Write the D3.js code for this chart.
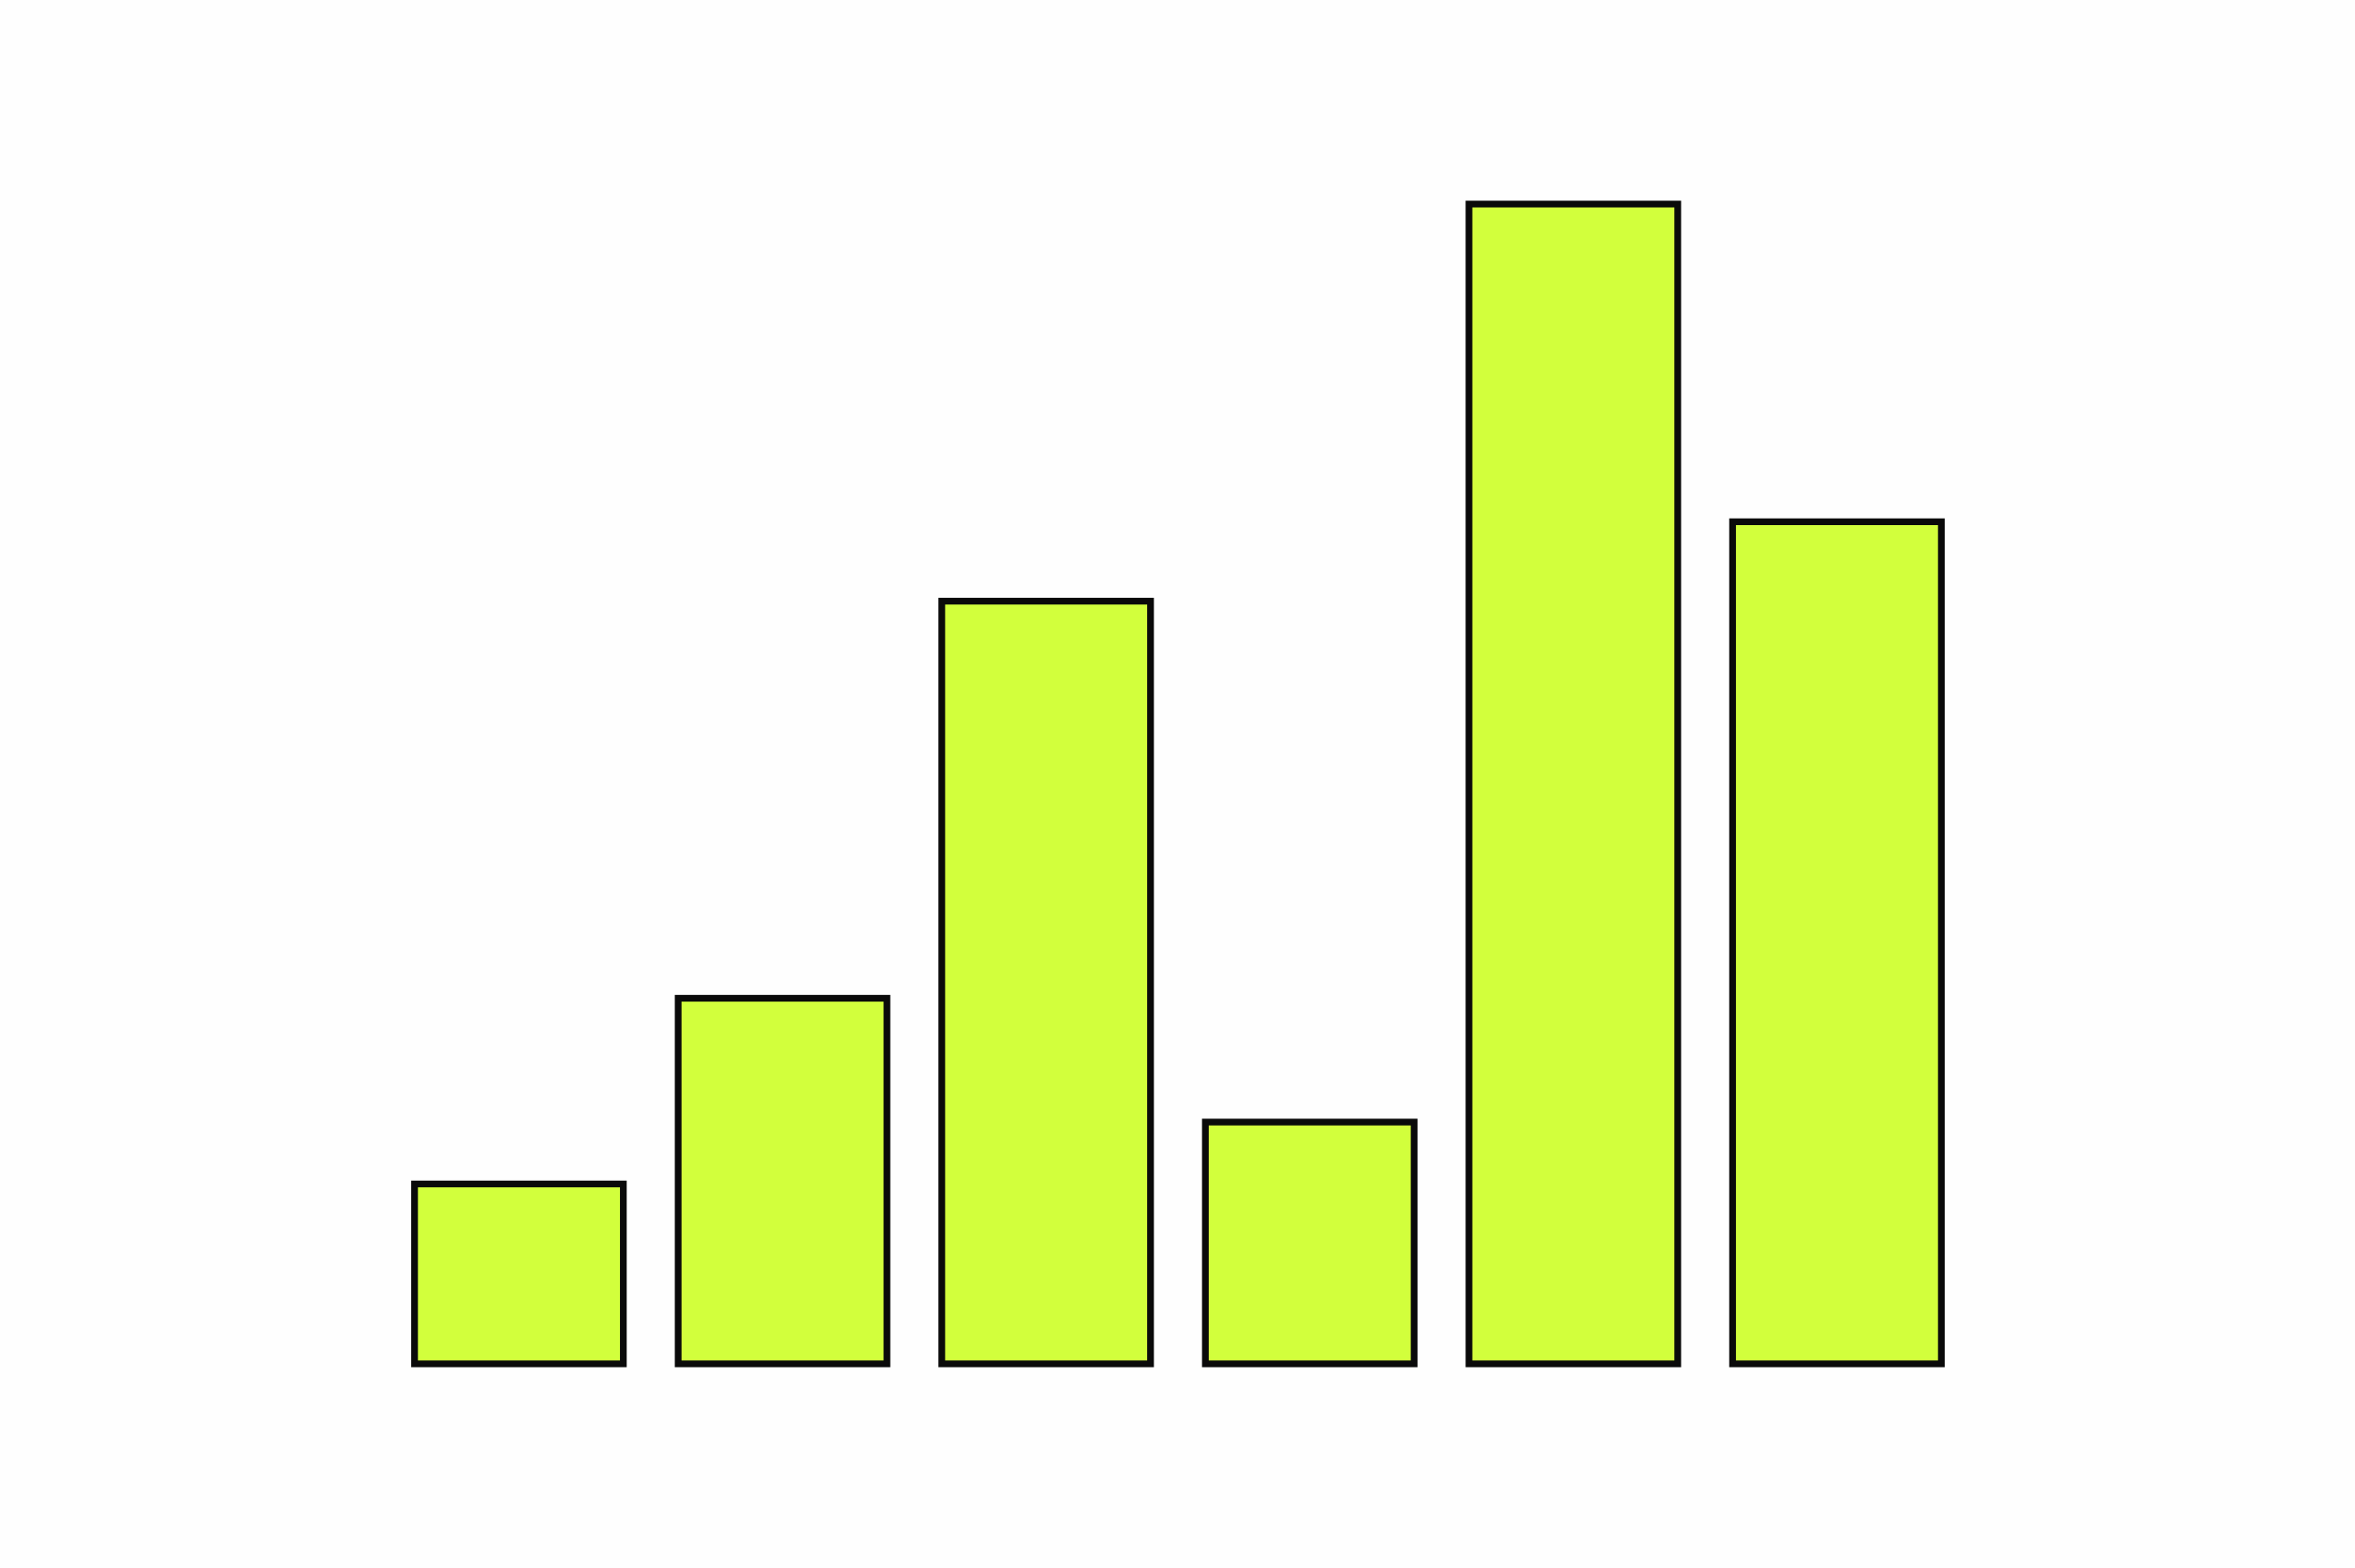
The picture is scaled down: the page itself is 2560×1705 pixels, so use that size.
<!DOCTYPE html>
<html>
<head>
<meta charset="utf-8">
<script src="https://cdn.jsdelivr.net/npm/d3@7"></script>
<style>
  html, body { margin: 0; padding: 0; background: #ffffff; }
  svg { display: block; }
</style>
</head>
<body>
<script>
const categories = ["A", "B", "C", "D", "E", "F"];
const values = [15.4, 31.3, 65.3, 20.7, 99.3, 72.1];

const width = 2560, height = 1705;
const svg = d3.select("body").append("svg")
  .attr("width", width).attr("height", height);

svg.append("rect").attr("width", width).attr("height", height).attr("fill", "#fefefe");

const x = d3.scaleBand()
  .domain(categories)
  .range([422, 2139])
  .paddingInner(0.208)
  .paddingOuter(0.1);

const y = d3.scaleLinear()
  .domain([0, 100])
  .range([1483, 213]);

svg.append("g").selectAll("rect")
  .data(values)
  .join("rect")
  .attr("x", (d, i) => x(categories[i]))
  .attr("y", d => y(d))
  .attr("width", x.bandwidth())
  .attr("height", d => y(0) - y(d))
  .attr("fill", "#d2ff3c")
  .attr("stroke", "#0a0a0a")
  .attr("stroke-width", 7.3);
</script>
</body>
</html>
